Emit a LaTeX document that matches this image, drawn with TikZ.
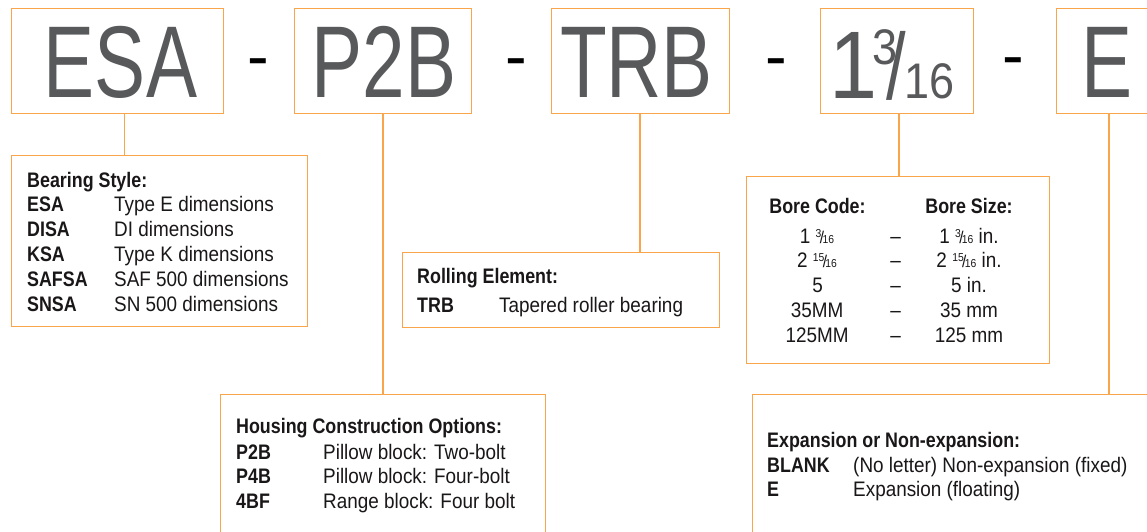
\documentclass[tikz,border=0pt]{standalone}
\usepackage{fontspec}
\setmainfont{Liberation Sans}[UprightFeatures={FakeStretch=0.9}, BoldFeatures={FakeStretch=0.85}]
\newfontfamily\bigfont{Liberation Sans}[FakeStretch=0.75]
\newfontfamily\fracfont{Liberation Sans}[FakeStretch=0.9]
\newfontfamily\plainfont{Liberation Sans}
\definecolor{boxorange}{HTML}{F9A54B}
\definecolor{biggray}{HTML}{58595B}
\definecolor{inkc}{HTML}{1A1718}
\newcommand{\myfrac}[2]{{\fontsize{11.5}{11.5}\selectfont\raisebox{5.5pt}{#1}}\kern-1.6pt{\fontsize{17}{17}\selectfont/}\kern-1.6pt{\fontsize{11.5}{11.5}\selectfont#2}}
\newcommand{\bigfrac}{{\fracfont\fontsize{96}{96}\selectfont 1}\kern-5pt{\fracfont\fontsize{50}{50}\selectfont\raisebox{34pt}{3}}\kern-11pt{\bigfont\fontsize{94}{94}\selectfont\raisebox{-1pt}{/}}\kern-1.6pt{\fracfont\fontsize{50}{50}\selectfont 16}}
\begin{document}
\begin{tikzpicture}[x=1pt,y=-1pt,
  obox/.style={draw=boxorange, line width=1.3pt, inner sep=0pt, anchor=north west},
  conn/.style={draw=boxorange, line width=1.2pt},
  bigtext/.style={inner sep=0pt, anchor=base, text=biggray, font=\bigfont\fontsize{102}{102}\selectfont},
  dashmark/.style={inner sep=0pt, anchor=base, text=black, font=\plainfont\fontsize{65}{65}\selectfont},
  bodytxt/.style={inner sep=0pt, anchor=base west, text=inkc, font=\fontsize{21}{25}\selectfont},
  boldtxt/.style={bodytxt, font=\bfseries\fontsize{21}{25}\selectfont},
  ctxt/.style={bodytxt, anchor=base},
  cbold/.style={boldtxt, anchor=base}]
\useasboundingbox (0,0) rectangle (1147,531);
\fill[white] (0,0) rectangle (1147,531);

% top boxes
\node[obox, minimum width=212pt, minimum height=105pt] (esa) at (11,8) {};
\node[obox, minimum width=177pt, minimum height=105pt] (p2b) at (294,8) {};
\node[obox, minimum width=178pt, minimum height=105pt] (trb) at (551,8) {};
\node[obox, minimum width=153pt, minimum height=105pt] (frac) at (820,8) {};
\node[obox, minimum width=150pt, minimum height=105pt] (ebox) at (1056,8) {};

\node[bigtext] (esaT) at (120.5,97) {ESA};
\node[bigtext] (p2bT) at (384,97) {P2B};
\node[bigtext] (trbT) at (636.5,97) {TRB};
\node[bigtext] (eT) at (1107,97) {E};
\node[inner sep=0pt, anchor=base west, text=biggray] (fracT) at (829.5,98) {\bigfrac};

% dashes
\node[dashmark] (d1) at (258.5,78.5) {-};
\node[dashmark] (d2) at (516.5,78.5) {-};
\node[dashmark] (d3) at (776,78.5) {-};
\node[dashmark] (d4) at (1013.5,77) {-};

% lower boxes
\node[obox, minimum width=296pt, minimum height=171pt] (bear) at (11,155) {};
\node[obox, minimum width=317pt, minimum height=75pt] (roll) at (402,252) {};
\node[obox, minimum width=303pt, minimum height=187pt] (bore) at (746,176) {};
\node[obox, minimum width=325pt, minimum height=200pt] (hous) at (220,394) {};
\node[obox, minimum width=450pt, minimum height=200pt] (expn) at (752,394) {};

% connector columns
\coordinate (cA) at (124.7,0);
\coordinate (cB) at (383,0);
\coordinate (cC) at (640,0);
\coordinate (cD) at (899,0);
\coordinate (cE) at (1109,0);
\draw[conn] (esa.south -| cA) -- (bear.north -| cA);
\draw[conn] (p2b.south -| cB) -- (hous.north -| cB);
\draw[conn] (trb.south -| cC) -- (roll.north -| cC);
\draw[conn] (frac.south -| cD) -- (bore.north -| cD);
\draw[conn] (ebox.south -| cE) -- (expn.north -| cE);

% Bearing style
\node[boldtxt] (bs0) at (27,187) {Bearing Style:};
\node[boldtxt] (bs1) at (27,211) {ESA};
\node[bodytxt] (bs1d) at (114,211) {Type E dimensions};
\node[boldtxt] (bs2) at (27,236) {DISA};
\node[bodytxt] (bs2d) at (114,236) {DI dimensions};
\node[boldtxt] (bs3) at (27,261) {KSA};
\node[bodytxt] (bs3d) at (114,261) {Type K dimensions};
\node[boldtxt] (bs4) at (27,286) {SAFSA};
\node[bodytxt] (bs4d) at (114,286) {SAF 500 dimensions};
\node[boldtxt] (bs5) at (27,311) {SNSA};
\node[bodytxt] (bs5d) at (114,311) {SN 500 dimensions};

% Rolling element
\node[boldtxt] (re0) at (417,283) {Rolling Element:};
\node[boldtxt] (re1) at (417,312) {TRB};
\node[bodytxt] (re1d) at (499,312) {Tapered roller bearing};

% Bore
\node[cbold] (bo0) at (817.5,213) {Bore Code:};
\node[cbold] (bo0s) at (969,213) {Bore Size:};
\node[ctxt] (bo1) at (817,243) {1 \myfrac{3}{16}};
\node[ctxt] (bo1m) at (895.5,243) {–};
\node[ctxt] (bo1s) at (969,243) {1 \myfrac{3}{16} in.};
\node[ctxt] (bo2) at (817,267) {2 \myfrac{15}{16}};
\node[ctxt] (bo2m) at (895.5,267) {–};
\node[ctxt] (bo2s) at (969,267) {2 \myfrac{15}{16} in.};
\node[ctxt] (bo3) at (817.5,292) {5};
\node[ctxt] (bo3m) at (895.5,292) {–};
\node[ctxt] (bo3s) at (969,292) {5 in.};
\node[ctxt] (bo4) at (817,317) {35MM};
\node[ctxt] (bo4m) at (895.5,317) {–};
\node[ctxt] (bo4s) at (969,317) {35 mm};
\node[ctxt] (bo5) at (817,342) {125MM};
\node[ctxt] (bo5m) at (895.5,342) {–};
\node[ctxt] (bo5s) at (969,342) {125 mm};

% Housing
\node[boldtxt] (ho0) at (236,433) {Housing Construction Options:};
\node[boldtxt] (ho1) at (236,459) {P2B};
\node[bodytxt] (ho1d) at (323,459) {Pillow block: Two-bolt};
\node[boldtxt] (ho2) at (236,483) {P4B};
\node[bodytxt] (ho2d) at (323,483) {Pillow block: Four-bolt};
\node[boldtxt] (ho3) at (236,508) {4BF};
\node[bodytxt] (ho3d) at (323,508) {Range block: Four bolt};

% Expansion
\node[boldtxt] (ex0) at (767,447) {Expansion or Non-expansion:};
\node[boldtxt] (ex1) at (767,472) {BLANK};
\node[bodytxt] (ex1d) at (853,472) {(No letter) Non-expansion (fixed)};
\node[boldtxt] (ex2) at (767,496) {E};
\node[bodytxt] (ex2d) at (853,496) {Expansion (floating)};
\end{tikzpicture}
\end{document}
